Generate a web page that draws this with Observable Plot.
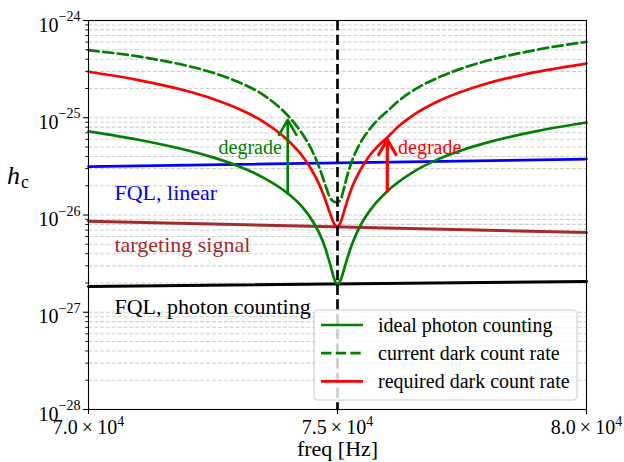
<!DOCTYPE html>
<html><head><meta charset="utf-8">
<script src="https://cdn.jsdelivr.net/npm/d3@7"></script>
<script src="https://cdn.jsdelivr.net/npm/@observablehq/plot@0.6"></script>
<style>
html,body{margin:0;padding:0;background:#fff;}
#chart{width:624px;height:462px;}
</style></head><body><div id="chart"></div>
<script>
// ---- data ----
const idealFreq = [70000, 71000, 72000, 72500, 73000, 73500, 74000, 74300, 74500, 74650, 74750, 74850, 74920, 74970, 75000, 75030, 75080, 75150, 75250, 75350, 75500, 75700, 76000, 76500, 77000, 77500, 78000, 79000, 80000];
const idealH    = [7.24e-26, 5.94e-26, 4.6e-26, 3.91e-26, 3.19e-26, 2.44e-26, 1.67e-26, 1.2e-26, 8.69e-27, 6.24e-27, 4.63e-27, 3.14e-27, 2.32e-27, 1.99e-27, 1.95e-27, 1.99e-27, 2.26e-27, 2.98e-27, 4.37e-27, 5.94e-27, 8.49e-27, 1.2e-26, 1.756e-26, 2.73e-26, 3.71e-26, 4.64e-26, 5.55e-26, 7.29e-26, 8.93e-26];

const currentFreq = [70000, 71000, 72000, 72500, 73000, 73500, 74000, 74300, 74500, 74650, 74750, 74850, 74930, 75000, 75060, 75120, 75200, 75300, 75450, 75600, 75800, 76000, 76200, 76500, 77000, 77500, 78000, 79000, 80000];
const currentH    = [4.95e-25, 4.27e-25, 3.40e-25, 2.9e-25, 2.34e-25, 1.73e-25, 1.054e-25, 6.75e-26, 4.47e-26, 2.93e-26, 2.07e-26, 1.51e-26, 1.37e-26, 1.355e-26, 1.43e-26, 1.80e-26, 2.59e-26, 3.70e-26, 5.42e-26, 7.11e-26, 9.42e-26, 1.167e-25, 1.45e-25, 1.88e-25, 2.56e-25, 3.22e-25, 3.85e-25, 5.0e-25, 6.04e-25];

const requiredFreq = [70000, 71000, 72000, 72500, 73000, 73500, 74000, 74300, 74500, 74650, 74750, 74850, 74930, 75000, 75060, 75120, 75200, 75300, 75450, 75600, 75800, 76000, 76250, 76500, 77000, 77500, 78000, 79000, 80000];
const requiredH    = [2.97e-25, 2.44e-25, 1.87e-25, 1.56e-25, 1.245e-25, 9.18e-26, 5.88e-26, 4.0e-26, 2.8e-26, 1.97e-26, 1.46e-26, 1.04e-26, 8.19e-27, 7.6e-27, 8.35e-27, 1.04e-26, 1.42e-26, 1.97e-26, 2.85e-26, 3.79e-26, 5.04e-26, 6.27e-26, 8.36e-26, 1.047e-25, 1.46e-25, 1.86e-25, 2.25e-25, 2.96e-25, 3.61e-25];

const edgeFreq      = [70000, 80000];
const fqlPhotonH    = [1.84e-27, 2.07e-27];
const fqlLinearH    = [3.15e-26, 3.75e-26];
const targetH       = [8.63e-27, 6.6e-27];

const resonanceFreq = [75000];

const arrowFreq  = [74000, 76000];
const arrowFrom  = [1.67e-26, 1.756e-26];
const arrowTo    = [9.53e-26, 5.97e-26];
const arrowColor = ["green", "red"];
const arrowHead  = [10, 12];
const arrowWidth = [2.6, 3.2];

const noteText  = ["degrade", "degrade"];
const noteFreq  = [73247, 76851];
const noteH     = [4.25e-26, 4.25e-26];
const noteColor = ["green", "red"];

const seriesText  = ["FQL, linear", "targeting signal", "FQL, photon counting"];
const seriesFreq  = [70522, 70522, 70522];
const seriesH     = [1.44e-26, 4.15e-27, 9.64e-28];
const seriesColor = ["blue", "brown", "black"];

const xTicks = [70000, 75000, 80000];
const xTickLabels = ["7.0\u2009×\u200910^4", "7.5\u2009×\u200910^4", "8.0\u2009×\u200910^4"];
const yTicks = [1e-28, 1e-27, 1e-26, 1e-25, 1e-24];
const yTickLabels = ["10^−28", "10^−27", "10^−26", "10^−25", "10^−24"];
const minorMult = [2, 3, 4, 5, 6, 7, 8, 9];
const yMinorTicks = yTicks.slice(0, -1).flatMap(d => minorMult.map(m => m * d));

const legendLabels = ["ideal photon counting", "current dark count rate", "required dark count rate"];
const legendColors = ["green", "green", "red"];
const legendDash   = [null, "10.3,4.4", null];

const xLabel = "freq [Hz]";
const yLabel = "h_c";

// ---- tables ----
const zipFH = (F, H) => F.map((f, i) => ({f, h: H[i]}));
const ideal = zipFH(idealFreq, idealH);
const current = zipFH(currentFreq, currentH);
const required = zipFH(requiredFreq, requiredH);
const fqlPhoton = zipFH(edgeFreq, fqlPhotonH);
const fqlLinear = zipFH(edgeFreq, fqlLinearH);
const target = zipFH(edgeFreq, targetH);
const arrows = arrowFreq.map((f, i) => ({f, a: arrowFrom[i], b: arrowTo[i], c: arrowColor[i]}));
const notes = noteText.map((t, i) => ({t, f: noteFreq[i], h: noteH[i], c: noteColor[i]}));
const seriesNotes = seriesText.map((t, i) => ({t, f: seriesFreq[i], h: seriesH[i], c: seriesColor[i]}));

const LW = 2.7;
const dash = "10.3,4.4";

const chart = Plot.plot({
  width: 624,
  height: 462,
  marginLeft: 88,
  marginRight: 38,
  marginTop: 20,
  marginBottom: 53,
  style: {fontFamily: "'Liberation Serif', 'Times New Roman', serif", background: "white", color: "black"},
  x: {domain: [70000, 80000], axis: null},
  y: {type: "log", domain: [1e-28, 1e-24], axis: null},
  marks: [
    Plot.gridY(yTicks.concat(yMinorTicks), {stroke: "#cfcfcf", strokeOpacity: 1, strokeWidth: 1.1, strokeDasharray: "4.1,1.8"}),
    Plot.line(target, {x: "f", y: "h", stroke: "brown", strokeWidth: 3}),
    Plot.line(fqlLinear, {x: "f", y: "h", stroke: "blue", strokeWidth: LW}),
    Plot.line(fqlPhoton, {x: "f", y: "h", stroke: "black", strokeWidth: 3}),
    Plot.line(ideal, {x: "f", y: "h", stroke: "green", strokeWidth: LW, curve: "monotone-x"}),
    Plot.line(current, {x: "f", y: "h", stroke: "green", strokeWidth: LW, strokeDasharray: dash, curve: "monotone-x"}),
    Plot.line(required, {x: "f", y: "h", stroke: "red", strokeWidth: LW, curve: "monotone-x"}),
    Plot.ruleX(resonanceFreq, {stroke: "black", strokeWidth: 2.7, strokeDasharray: dash}),
    Plot.arrow(arrows.slice(0, 1), {x: "f", y1: "a", y2: "b", stroke: "c", strokeWidth: arrowWidth[0], headLength: arrowHead[0]}),
    Plot.arrow(arrows.slice(1), {x: "f", y1: "a", y2: "b", stroke: "c", strokeWidth: arrowWidth[1], headLength: arrowHead[1]}),
    Plot.text(notes, {x: "f", y: "h", text: "t", fill: "c", fontSize: 20, textAnchor: "middle", lineAnchor: "bottom"}),
    Plot.text(seriesNotes, {x: "f", y: "h", text: "t", fill: "c", fontSize: 22, textAnchor: "start", lineAnchor: "bottom"}),
    Plot.axisX(xTicks, {tickSize: 5, strokeWidth: 1.1, tickFormat: () => "", label: null}),
    Plot.axisY(yTicks, {tickSize: 5, strokeWidth: 1.1, tickFormat: () => "", label: null}),
    Plot.axisY(yMinorTicks, {tickSize: 2.8, strokeWidth: 0.9, tickFormat: () => "", label: null}),
    Plot.text(xTicks, {x: d => d, text: (d, i) => xTickLabels[i], frameAnchor: "bottom", lineAnchor: "bottom", textAnchor: "middle", dy: 24, fontSize: 20, fill: "black"}),
    Plot.text(yTicks, {y: d => d, text: (d, i) => yTickLabels[i], frameAnchor: "left", lineAnchor: "bottom", textAnchor: "end", dx: -8, dy: 11, fontSize: 20, fill: "black"}),
    Plot.text([xLabel], {text: d => d, frameAnchor: "bottom", lineAnchor: "bottom", textAnchor: "middle", dy: 46, fontSize: 22, fill: "black"}),
    Plot.text([yLabel], {text: d => d, frameAnchor: "left", lineAnchor: "bottom", textAnchor: "start", dx: -81.5, dy: -31.5, fontSize: 26, fill: "black"}),
    Plot.frame({stroke: "black", strokeWidth: 1.1})
  ]
});

document.getElementById("chart").appendChild(chart);

// ---- rich text: superscripts / subscripts ----
const svg = d3.select(chart);
svg.selectAll("text").each(function () {
  const t = this.textContent;
  const sel = d3.select(this);
  let m;
  if ((m = t.match(/^(.+)\^(.+)$/))) {
    const isX = t.includes("×");
    this.textContent = "";
    sel.append("tspan").text(m[1]);
    sel.append("tspan").attr("font-size", 14).attr("dy", isX ? -8 : -10.3).text(m[2]);
  } else if ((m = t.match(/^(.)_(.)$/))) {
    this.textContent = "";
    sel.append("tspan").attr("font-style", "italic").text(m[1]);
    sel.append("tspan").attr("font-size", 18).attr("dx", 1).attr("dy", 4).text(m[2]);
  }
});

// ---- legend (inside the axes, lower right) ----
const xr = chart.scale("x").range;   // [left, right]
const yr = chart.scale("y").range;   // [bottom, top]
const boxW = 263, boxH = 90;
const bx = xr[1] - 9 - boxW, by = yr[0] - 9 - boxH;
const lg = svg.append("g")
  .attr("font-family", "'Liberation Serif', 'Times New Roman', serif")
  .attr("text-anchor", "start");
lg.append("rect").attr("x", bx).attr("y", by).attr("width", boxW).attr("height", boxH)
  .attr("rx", 4).attr("fill", "white").attr("fill-opacity", 0.8)
  .attr("stroke", "#cccccc").attr("stroke-width", 1.1);
legendLabels.forEach((lab, i) => {
  const cy = by + 15 + i * 28.2;
  lg.append("line").attr("x1", bx + 7).attr("x2", bx + 49).attr("y1", cy).attr("y2", cy)
    .attr("stroke", legendColors[i]).attr("stroke-width", LW)
    .attr("stroke-dasharray", legendDash[i]);
  lg.append("text").attr("x", bx + 64).attr("y", cy + 6.8).attr("font-size", 20)
    .attr("text-anchor", "start").attr("fill", "black").text(lab);
});
</script>
</body></html>
